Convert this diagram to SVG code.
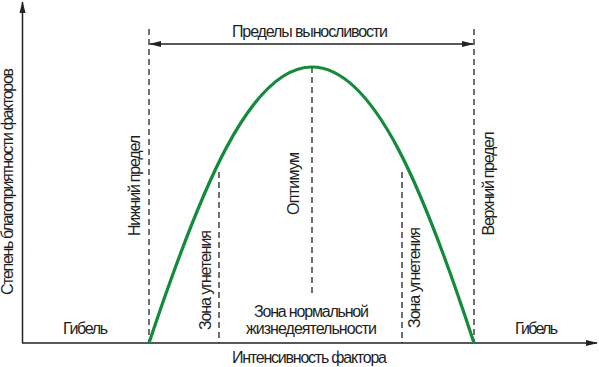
<svg xmlns="http://www.w3.org/2000/svg" width="599" height="367" viewBox="0 0 599 367">
<defs>
<style>
text{font-family:"Liberation Sans",Arial,sans-serif;font-size:16px;fill:#1e1e1e}
.ax{stroke:#222;stroke-width:1.5;fill:none}
.dash{stroke:#222;stroke-width:1.3;stroke-dasharray:6,4;fill:none}
.curve{stroke:#138a3c;stroke-width:3.2;fill:none}
</style>
<marker id="ah" markerWidth="12" markerHeight="8" refX="11" refY="4" orient="auto-start-reverse" markerUnits="userSpaceOnUse">
<path d="M0,1 L12,4 L0,7 Z" fill="#222"/>
</marker>
</defs>
<rect width="599" height="367" fill="#fff"/>
<g id="axes">
<line class="ax" x1="22.5" y1="343" x2="22.5" y2="2" marker-end="url(#ah)"/>
<line class="ax" x1="22" y1="343" x2="597" y2="343" marker-end="url(#ah)"/>
<text transform="translate(13,181.5) rotate(-90)" text-anchor="middle" textLength="227">Степень благоприятности факторов</text>
<text x="309.5" y="363" text-anchor="middle" textLength="155">Интенсивность фактора</text>
</g>
<g id="connectors">
<line class="dash" x1="149" y1="29" x2="149" y2="343"/>
<line class="dash" x1="474" y1="29" x2="474" y2="343"/>
<line class="dash" x1="219" y1="172" x2="219" y2="343"/>
<line class="dash" x1="402" y1="172" x2="402" y2="343"/>
<line class="dash" x1="312" y1="67" x2="312" y2="297"/>
<line class="ax" x1="150" y1="44" x2="473" y2="44" marker-start="url(#ah)" marker-end="url(#ah)"/>
</g>
<g id="curve">
<path class="curve" d="M149,343 C200,190 250,67 312,67 C374,67 424,190 474,343"/>
</g>
<g id="labels">
<text x="310" y="36.5" text-anchor="middle" textLength="156">Пределы выносливости</text>
<text x="85.5" y="334" text-anchor="middle" textLength="45">Гибель</text>
<text x="536.5" y="334" text-anchor="middle" textLength="43">Гибель</text>
<text x="311.5" y="316.5" text-anchor="middle" textLength="115">Зона нормальной</text>
<text x="311.5" y="334" text-anchor="middle" textLength="131">жизнедеятельности</text>
<text transform="translate(140,185.5) rotate(-90)" text-anchor="middle" textLength="101">Нижний предел</text>
<text transform="translate(494,183.5) rotate(-90)" text-anchor="middle" textLength="104">Верхний предел</text>
<text transform="translate(298.5,183.5) rotate(-90)" text-anchor="middle" textLength="63">Оптимум</text>
<text transform="translate(210.5,280) rotate(-90)" text-anchor="middle" textLength="100">Зона угнетения</text>
<text transform="translate(420,277.5) rotate(-90)" text-anchor="middle" textLength="101">Зона угнетения</text>
</g>
</svg>
